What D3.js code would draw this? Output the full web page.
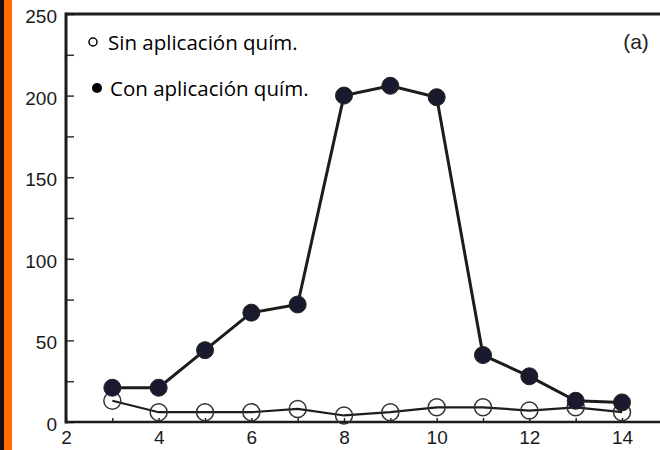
<!DOCTYPE html>
<html>
<head>
<meta charset="utf-8">
<script src="https://cdn.jsdelivr.net/npm/d3@7/dist/d3.min.js"></script>
<style>
  html, body { margin: 0; padding: 0; background: #fff; }
  svg { display: block; }
</style>
</head>
<body>
<script>
// Weeks sampled and insect counts for the two treatments
const weeks = [3, 4, 5, 6, 7, 8, 9, 10, 11, 12, 13, 14];
const conAplicacion = [21, 21, 44, 67, 72, 200, 206, 199, 41, 28, 13, 12];
const sinAplicacion = [13, 6, 6, 6, 8, 4, 6, 9, 9, 7, 9, 6];
const xTickLabels = [2, 4, 6, 8, 10, 12, 14];
const yTickLabels = [0, 50, 100, 150, 200, 250];
const legendLabels = ["Sin aplicación quím.", "Con aplicación quím."];
const panelLabel = "(a)";

const W = 660, H = 450;
const svg = d3.select("body").append("svg").attr("width", W).attr("height", H);
svg.append("rect").attr("width", W).attr("height", H).attr("fill", "#fff");

// side strip
svg.append("rect").attr("x", 0).attr("y", 0).attr("width", 4).attr("height", H).attr("fill", "#111");
svg.append("rect").attr("x", 4).attr("y", 0).attr("width", 8).attr("height", H).attr("fill", "#ff6a00");

const x = d3.scaleLinear().domain([2, 14.82]).range([66, 660]);
const y = d3.scaleLinear().domain([0, 250]).range([422, 14]);

const ink = "#1c1c1c";
const tickFont = "'Liberation Sans', Arial, sans-serif";

// y axis: labels every 50, inward ticks every 25
const yAxis = d3.axisLeft(y)
  .tickValues(d3.range(0, 251, 25))
  .tickSizeInner(-8).tickSizeOuter(0).tickPadding(9)
  .tickFormat(d => yTickLabels.includes(d) ? d : "");
const gy = svg.append("g").attr("transform", `translate(${x(2)},0)`).call(yAxis);
gy.select(".domain").remove();
gy.selectAll(".tick line").attr("stroke", "#333").attr("stroke-width", 1.5);
gy.selectAll(".tick text").attr("font-family", tickFont)
  .attr("font-size", 19).attr("fill", "#1a1a1a").attr("dy", "0.45em");

// x axis: labels every 2, small inward ticks at each week
const xAxis = d3.axisBottom(x)
  .tickValues(d3.range(2, 15, 1))
  .tickSizeInner(-4).tickSizeOuter(0).tickPadding(9)
  .tickFormat(d => xTickLabels.includes(d) ? d : "");
const gx = svg.append("g").attr("transform", `translate(0,${y(0)})`).call(xAxis);
gx.select(".domain").remove();
gx.selectAll(".tick line").attr("stroke", ink).attr("stroke-width", 1.4);
gx.selectAll(".tick text").attr("font-family", tickFont)
  .attr("font-size", 19).attr("fill", "#1a1a1a");

// frame lines: left, bottom, top
svg.append("line").attr("x1", x(2)).attr("x2", x(2)).attr("y1", y(250) - 1.5).attr("y2", y(0) + 1.5)
  .attr("stroke", ink).attr("stroke-width", 3);
svg.append("line").attr("x1", x(2)).attr("x2", W).attr("y1", y(0)).attr("y2", y(0))
  .attr("stroke", ink).attr("stroke-width", 2.6);
svg.append("line").attr("x1", x(2)).attr("x2", W).attr("y1", y(250)).attr("y2", y(250))
  .attr("stroke", ink).attr("stroke-width", 3);

const line = d3.line().x(d => x(d[0])).y(d => y(d[1]));
const sinPts = weeks.map((w, i) => [w, sinAplicacion[i]]);
const conPts = weeks.map((w, i) => [w, conAplicacion[i]]);

// untreated series: open circles
svg.append("path").datum(sinPts).attr("d", line)
  .attr("fill", "none").attr("stroke", ink).attr("stroke-width", 2.2);
svg.selectAll(".sin").data(sinPts).enter().append("circle").attr("class", "sin")
  .attr("cx", d => x(d[0])).attr("cy", d => y(d[1])).attr("r", 8.5)
  .attr("fill", "none").attr("stroke", "#333").attr("stroke-width", 1.5);

// treated series: filled circles
svg.append("path").datum(conPts).attr("d", line)
  .attr("fill", "none").attr("stroke", ink).attr("stroke-width", 3);
svg.selectAll(".con").data(conPts).enter().append("circle").attr("class", "con")
  .attr("cx", d => x(d[0])).attr("cy", d => y(d[1])).attr("r", 8.5)
  .attr("fill", "#1a1a2e").attr("stroke", "#222").attr("stroke-width", 1);

// legend
svg.append("circle").attr("cx", 93).attr("cy", 42).attr("r", 4)
  .attr("fill", "none").attr("stroke", "#000").attr("stroke-width", 1.5);
svg.append("circle").attr("cx", 97).attr("cy", 88).attr("r", 5).attr("fill", "#000");
svg.append("text").attr("x", 108).attr("y", 50).text(legendLabels[0])
  .attr("font-family", "'Open Sans', sans-serif").attr("font-size", 20.5).attr("fill", "#000");
svg.append("text").attr("x", 110).attr("y", 96).text(legendLabels[1])
  .attr("font-family", "'Open Sans', sans-serif").attr("font-size", 20.5).attr("fill", "#000");

// panel tag
svg.append("text").attr("x", 636).attr("y", 49).attr("text-anchor", "middle").text(panelLabel)
  .attr("font-family", tickFont).attr("font-size", 21).attr("fill", "#222");
</script>
</body>
</html>
